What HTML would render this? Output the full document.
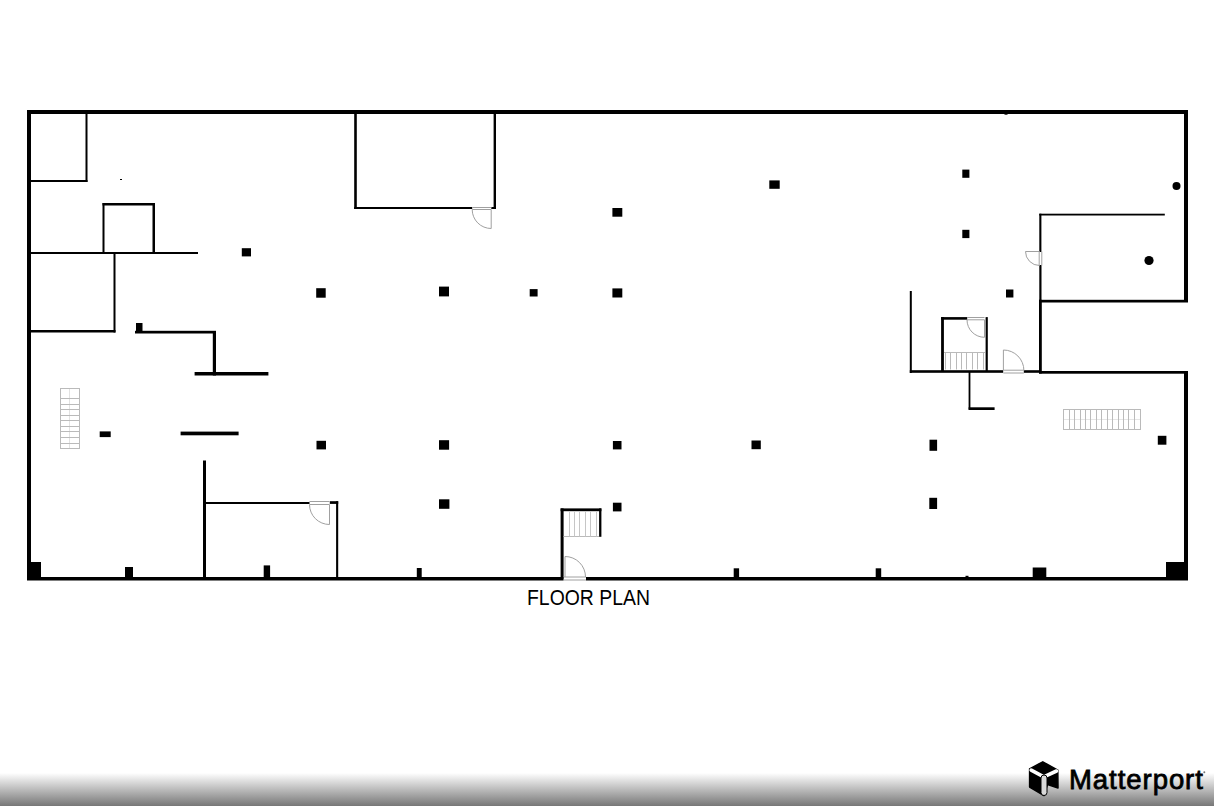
<!DOCTYPE html>
<html>
<head>
<meta charset="utf-8">
<style>
html,body{margin:0;padding:0;background:#fff;width:1214px;height:806px;overflow:hidden;}
#wrap{position:relative;width:1214px;height:806px;}
svg{position:absolute;left:0;top:0;}
.grad{position:absolute;left:0;top:773px;width:1214px;height:33px;background:linear-gradient(to bottom,#ffffff 0%,#777777 100%);}
.fp{position:absolute;left:527.3px;top:584.2px;font-family:"Liberation Sans",sans-serif;font-size:22.8px;transform:scaleX(0.851);color:#000;white-space:nowrap;transform-origin:0 0;}
.mp{position:absolute;left:1069px;top:764px;font-family:"Liberation Sans",sans-serif;font-size:27.5px;font-weight:normal;-webkit-text-stroke:0.8px #000;letter-spacing:0.95px;color:#000;white-space:nowrap;transform-origin:0 0;}
</style>
</head>
<body>
<div id="wrap">
<div class="grad"></div>
<svg width="1214" height="806" viewBox="0 0 1214 806">
<g fill="#000">
<!-- outer walls -->
<rect x="27" y="110" width="1161" height="4"/>
<rect x="27" y="110" width="4" height="470"/>
<rect x="27" y="577" width="536.6" height="3.5"/>
<rect x="586" y="577" width="602" height="3.5"/>
<rect x="1184" y="110" width="4" height="192"/>
<rect x="1039" y="299.8" width="149" height="2.7"/>
<rect x="1039" y="299.8" width="2.8" height="73.7"/>
<rect x="1039" y="371" width="149" height="2.7"/>
<rect x="1184" y="371" width="4" height="209"/>
<rect x="27" y="562" width="14" height="18"/>
<rect x="1166" y="562" width="22" height="18"/>

<!-- top-left room -->
<rect x="85.5" y="113" width="2" height="69"/>
<rect x="30" y="180" width="57.5" height="2"/>
<rect x="120" y="179" width="2" height="1"/>
<!-- box -->
<rect x="102.5" y="203" width="52.5" height="2.5"/>
<rect x="102.5" y="203" width="2" height="51"/>
<rect x="152.5" y="203" width="2.5" height="51"/>
<rect x="30" y="252" width="168" height="2"/>
<rect x="113.5" y="252" width="2" height="80.5"/>
<rect x="30" y="330" width="85.5" height="2.5"/>
<rect x="136" y="323" width="6.5" height="9.5"/>
<rect x="135" y="330.8" width="81" height="2.7"/>
<rect x="212.8" y="331" width="3.2" height="44.5"/>
<rect x="194.6" y="372" width="73.8" height="3.5"/>
<rect x="99.7" y="431.4" width="11" height="5.7"/>
<rect x="180.6" y="431.6" width="58" height="3.7"/>
<!-- bottom-left room -->
<rect x="203" y="460.5" width="3" height="117"/>
<rect x="204" y="502" width="105.5" height="2"/>
<rect x="329.8" y="501.2" width="8.4" height="2.7"/>
<rect x="336.1" y="501.2" width="2.1" height="76"/>
<!-- bottom wall pillars -->
<rect x="125" y="567" width="8" height="11"/>
<rect x="263.7" y="565.4" width="6.4" height="12"/>
<rect x="416.8" y="568" width="4.9" height="10"/>
<rect x="733.7" y="568.3" width="5.4" height="10"/>
<rect x="875.7" y="568.3" width="5.5" height="10"/>
<rect x="1032.7" y="567.5" width="13.6" height="10.5"/>
<!-- top middle room -->
<rect x="354.2" y="113" width="2.6" height="96"/>
<rect x="493.6" y="113" width="2.4" height="96"/>
<rect x="354.2" y="207" width="118" height="2"/>
<rect x="491.3" y="207" width="4.7" height="2"/>
<!-- stair room bottom middle -->
<rect x="560.6" y="508.4" width="3" height="70"/>
<rect x="560.6" y="508.4" width="40.8" height="2.8"/>
<rect x="599.1" y="508.4" width="2.3" height="28.4"/>
<!-- right rooms -->
<rect x="1039.3" y="213.7" width="2.1" height="38.3"/>
<rect x="1039.3" y="265" width="2.2" height="37"/>
<rect x="1039.3" y="213.7" width="125.5" height="1.8"/>
<rect x="909.8" y="291" width="2" height="82"/>
<rect x="909.8" y="370.2" width="93.4" height="2.6"/>
<rect x="1023.8" y="370.2" width="16" height="2.6"/>
<rect x="941.1" y="317.1" width="2.8" height="54"/>
<rect x="941.1" y="317.1" width="26.1" height="2.6"/>
<rect x="985.6" y="317.1" width="2.2" height="54"/>
<rect x="968.6" y="372" width="1.8" height="37.5"/>
<rect x="968.6" y="407.3" width="26" height="2.7"/>
<!-- pillars -->
<rect x="241.8" y="248.2" width="9.2" height="8.2"/>
<rect x="316.2" y="288.2" width="9.5" height="9.5"/>
<rect x="439" y="286.6" width="10" height="9.8"/>
<rect x="529.7" y="289.1" width="7.9" height="7.4"/>
<rect x="612.4" y="288.4" width="9.9" height="9.1"/>
<rect x="612.4" y="208" width="9.9" height="8.7"/>
<rect x="769.3" y="180.4" width="10.4" height="8.4"/>
<rect x="962.3" y="169.6" width="7.1" height="8.2"/>
<rect x="962.3" y="229.8" width="7.1" height="8.3"/>
<rect x="1006" y="289.5" width="7.4" height="8"/>
<rect x="316.5" y="440.8" width="9.5" height="8.6"/>
<rect x="439" y="440.2" width="10.1" height="9.5"/>
<rect x="612.9" y="441" width="8.6" height="8.4"/>
<rect x="439" y="499.3" width="10.4" height="9.5"/>
<rect x="612.9" y="502.7" width="8.6" height="8.7"/>
<rect x="751.5" y="440.5" width="9.3" height="8.7"/>
<rect x="929.5" y="439.7" width="7.6" height="11.1"/>
<rect x="929.3" y="497.8" width="7.8" height="11.2"/>
<rect x="1157.8" y="435.8" width="8.6" height="8.9"/>
<rect x="1004.5" y="113.5" width="3" height="1.2"/>
<rect x="965.5" y="575.8" width="3" height="1.2"/>
<circle cx="1176.5" cy="186" r="4"/>
<circle cx="1149" cy="260.5" r="4.6"/>
</g>
<g fill="none" stroke="#a0a0a0" stroke-width="1">
<path d="M309.5 501.5H329.5M309.5 504.5H329.5M329.5 504.5V524.5M309.5 504.5A20 20 0 0 0 329.5 524.5"/>
<path d="M472.2 207.5H491.2M472.2 209.5H491.2M491.2 209.5V228.5M472.2 209.5A19 19 0 0 0 491.2 228.5"/>
<path d="M1039.2 251.5V265.5M1041.8 251.5V265.5M1039.5 251.5H1025.5M1025.5 251.5A14 14 0 0 0 1039.5 265.5"/>
<path d="M967 317.5H984.5M967 319.8H984.5M984.5 319.8V337.3M967 319.8A17.5 17.5 0 0 0 984.5 337.3"/>
<path d="M1003.4 370.2H1023.9M1003.4 373H1023.9M1003.4 370.5V350M1003.4 350A20.5 20.5 0 0 1 1023.9 370.5"/>
<path d="M563.6 577H586M563.6 580H586M565 577V556.5M565 556.5A20.5 20.5 0 0 1 585.5 577"/>
<g stroke="#bababa">
<path d="M69.5 388.5V448.5" stroke="#e2e2e2"/>
<rect x="60.5" y="388.5" width="19" height="60"/>
<path d="M60.5 398.5H79.5"/>
<path d="M60.5 404.5H79.5"/>
<path d="M60.5 409.5H79.5"/>
<path d="M60.5 415.5H79.5"/>
<path d="M60.5 420.5H79.5"/>
<path d="M60.5 426.5H79.5"/>
<path d="M60.5 431.5H79.5"/>
<path d="M60.5 437.5H79.5"/>
<path d="M60.5 443.5H79.5"/>
<path d="M563.5 536.5H599"/>
<path d="M569.5 511.5V536.5" stroke="#c6c6c6"/>
<path d="M574.5 511.5V536.5" stroke="#c6c6c6"/>
<path d="M579.5 511.5V536.5" stroke="#c6c6c6"/>
<path d="M585.5 511.5V536.5" stroke="#c6c6c6"/>
<path d="M590.5 511.5V536.5" stroke="#c6c6c6"/>
<path d="M596.5 511.5V536.5" stroke="#c6c6c6"/>
<path d="M944 352.5H985"/>
<path d="M945.5 352.5V369.5"/>
<path d="M950.5 352.5V369.5"/>
<path d="M956.5 352.5V369.5"/>
<path d="M961.5 352.5V369.5"/>
<path d="M966.5 352.5V369.5"/>
<path d="M972.5 352.5V369.5"/>
<path d="M977.5 352.5V369.5"/>
<path d="M983.5 352.5V369.5"/>
<path d="M1063.5 419.5H1140.5" stroke="#e6e6e6"/>
<rect x="1063.5" y="409.5" width="77" height="20"/>
<path d="M1069.5 409.5V429.5"/>
<path d="M1074.5 409.5V429.5"/>
<path d="M1080.5 409.5V429.5"/>
<path d="M1085.5 409.5V429.5"/>
<path d="M1090.5 409.5V429.5"/>
<path d="M1096.5 409.5V429.5"/>
<path d="M1101.5 409.5V429.5"/>
<path d="M1107.5 409.5V429.5"/>
<path d="M1112.5 409.5V429.5"/>
<path d="M1118.5 409.5V429.5"/>
<path d="M1123.5 409.5V429.5"/>
<path d="M1128.5 409.5V429.5"/>
<path d="M1134.5 409.5V429.5"/>
</g>
</g>
<g>
<path d="M1042.8 761.8 L1057.8 770.2 L1058 788 L1047.5 784.5 L1044 795.5 L1029.6 787 L1029.6 768.8 Z" fill="#000" stroke="#000" stroke-width="1.5" stroke-linejoin="round"/>
<polyline points="1031.2,770.2 1043.8,776.8 1056.5,771" fill="none" stroke="#fff" stroke-width="3.6" stroke-linecap="round" stroke-linejoin="round"/>
<rect x="1041" y="775" width="6" height="20.5" rx="3" fill="#d8d8d8" stroke="#000" stroke-width="1"/>
</g>
<circle cx="1204.3" cy="772.3" r="1" fill="#777"/>
</svg>
<div class="fp">FLOOR PLAN</div>
<div class="mp">Matterport</div>
</div>
</body>
</html>
